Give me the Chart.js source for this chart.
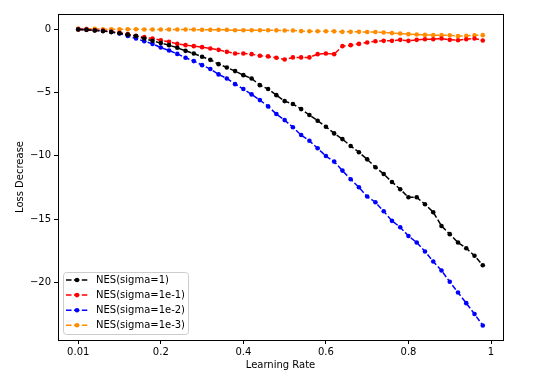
<!DOCTYPE html>
<html>
<head>
<meta charset="utf-8">
<script src="https://cdn.jsdelivr.net/npm/chart.js@4"></script>
<style>
html,body{margin:0;padding:0;background:#fff;}
#wrap{width:543px;height:380px;position:relative;}
</style>
</head>
<body>
<div id="wrap"><canvas id="c" width="543" height="380"></canvas></div>
<script>
// x positions: 50 learning-rate steps
const xValues = [0.00,0.02,0.04,0.06,0.08,0.10,0.12,0.14,0.16,0.18,0.20,0.22,0.24,0.26,0.28,0.30,0.32,0.34,0.36,0.38,0.40,0.42,0.44,0.46,0.48,0.50,0.52,0.54,0.56,0.58,0.60,0.62,0.64,0.66,0.68,0.70,0.72,0.74,0.76,0.78,0.80,0.82,0.84,0.86,0.88,0.90,0.92,0.94,0.96,0.98];
const seriesNames = ['NES(sigma=1)','NES(sigma=1e-1)','NES(sigma=1e-2)','NES(sigma=1e-3)'];
const sigma1 = [-0.02,-0.05,-0.10,-0.15,-0.23,-0.32,-0.43,-0.55,-0.74,-0.92,-1.10,-1.26,-1.47,-1.71,-1.92,-2.18,-2.42,-2.76,-3.02,-3.31,-3.63,-3.89,-4.42,-4.73,-5.21,-5.68,-5.91,-6.31,-6.78,-7.23,-7.70,-8.23,-8.68,-9.23,-9.72,-10.28,-10.91,-11.44,-12.07,-12.64,-13.28,-13.28,-13.83,-14.46,-15.54,-16.19,-16.85,-17.30,-17.90,-18.64];
const sigma1e1 = [-0.02,-0.04,-0.08,-0.13,-0.20,-0.28,-0.39,-0.53,-0.63,-0.74,-0.87,-1.00,-1.16,-1.26,-1.34,-1.42,-1.52,-1.63,-1.79,-1.92,-1.92,-1.97,-2.10,-2.15,-2.26,-2.39,-2.23,-2.23,-2.23,-1.97,-1.92,-1.97,-1.34,-1.26,-1.16,-1.05,-0.95,-0.92,-0.92,-0.84,-0.92,-0.84,-0.79,-0.79,-0.74,-0.84,-0.87,-0.79,-0.74,-0.89];
const sigma1e2 = [0.00,-0.03,-0.08,-0.13,-0.21,-0.34,-0.53,-0.74,-0.95,-1.16,-1.45,-1.68,-1.95,-2.26,-2.52,-2.84,-3.15,-3.57,-3.89,-4.34,-4.73,-5.15,-5.60,-6.10,-6.70,-7.18,-7.75,-8.36,-8.81,-9.41,-10.02,-10.46,-11.17,-11.85,-12.49,-13.22,-13.67,-14.38,-15.14,-15.64,-16.33,-16.85,-17.56,-18.35,-19.06,-19.95,-20.80,-21.64,-22.50,-23.40];
const sigma1e3 = [0.05,0.03,0.03,0.00,0.00,0.00,0.00,0.00,-0.03,-0.03,-0.03,-0.03,-0.03,-0.03,-0.03,-0.05,-0.05,-0.05,-0.05,-0.08,-0.08,-0.08,-0.08,-0.08,-0.09,-0.10,-0.10,-0.15,-0.16,-0.16,-0.16,-0.17,-0.21,-0.21,-0.21,-0.22,-0.22,-0.26,-0.31,-0.34,-0.39,-0.42,-0.45,-0.47,-0.47,-0.48,-0.55,-0.53,-0.48,-0.47];
const xTickValues = [0,0.2,0.4,0.6,0.8,1.0];
const xTickLabels = ['0.01','0.2','0.4','0.6','0.8','1'];
const yTickValues = [0,-5,-10,-15,-20];
const yTickLabels = ['0','\u22125','\u221210','\u221215','\u221220'];
const colors = ['#000000','#ff0000','#0000ff','#ff8c00'];

const allSeries = [sigma1, sigma1e1, sigma1e2, sigma1e3];
const FONT = 'DejaVu Sans';
const DOT = 2.3;

const datasets = allSeries.map((s, k) => ({
  label: seriesNames[k],
  data: s.map((v, i) => ({x: xValues[i], y: v})),
  borderColor: colors[k],
  backgroundColor: colors[k],
  borderWidth: 1.5,
  borderDash: [5.5, 2.4],
  pointRadius: DOT,
  pointBorderWidth: 0,
  pointBackgroundColor: colors[k],
  pointHoverRadius: DOT,
  tension: 0,
  fill: false
}));

const framePlugin = {
  id: 'frame',
  afterDraw(chart) {
    const {ctx, chartArea: a} = chart;
    ctx.save();
    ctx.strokeStyle = '#000';
    ctx.lineWidth = 1;
    ctx.strokeRect(Math.round(a.left) + 0.5, Math.round(a.top) + 0.5, Math.round(a.right - a.left), Math.round(a.bottom - a.top));
    // legend
    const lx = 63.5, ly = 272.5, lw = 125, lh = 62, r = 3;
    ctx.globalAlpha = 0.8;
    ctx.fillStyle = '#fff';
    ctx.beginPath();
    ctx.moveTo(lx + r, ly);
    ctx.arcTo(lx + lw, ly, lx + lw, ly + lh, r);
    ctx.arcTo(lx + lw, ly + lh, lx, ly + lh, r);
    ctx.arcTo(lx, ly + lh, lx, ly, r);
    ctx.arcTo(lx, ly, lx + lw, ly, r);
    ctx.closePath();
    ctx.fill();
    ctx.globalAlpha = 1;
    ctx.strokeStyle = '#cccccc';
    ctx.lineWidth = 1;
    ctx.stroke();
    ctx.font = '10px "' + FONT + '"';
    ctx.textBaseline = 'middle';
    ctx.textAlign = 'left';
    for (let k = 0; k < seriesNames.length; k++) {
      const y = 280 + k * 15.1;
      ctx.strokeStyle = colors[k];
      ctx.lineWidth = 1.5;
      ctx.setLineDash([5.5, 2.4]);
      ctx.beginPath();
      ctx.moveTo(66, y);
      ctx.lineTo(88, y);
      ctx.stroke();
      ctx.setLineDash([]);
      ctx.fillStyle = colors[k];
      ctx.beginPath();
      ctx.arc(77, y, DOT, 0, Math.PI * 2);
      ctx.fill();
      ctx.fillStyle = '#000';
      ctx.fillText(seriesNames[k], 96, y + 0.5);
    }
    ctx.restore();
  }
};

new Chart(document.getElementById('c'), {
  type: 'line',
  data: {datasets},
  options: {
    responsive: false,
    animation: false,
    events: [],
    layout: {padding: {top: 14, right: 40, left: 14, bottom: 9}},
    plugins: {legend: {display: false}, tooltip: {enabled: false}},
    scales: {
      x: {
        type: 'linear',
        min: -0.049,
        max: 1.029,
        afterFit(s) { s.height = 31; },
        afterBuildTicks(s) { s.ticks = xTickValues.map(v => ({value: v})); },
        grid: {display: true, drawOnChartArea: false, drawTicks: true, tickLength: 4, color: '#000', lineWidth: 1},
        border: {display: true, color: '#000', width: 1},
        ticks: {
          color: '#000',
          padding: 2,
          maxRotation: 0,
          autoSkip: false,
          font: {family: FONT, size: 10},
          callback(v) { const i = xTickValues.findIndex(t => Math.abs(t - v) < 1e-9); return i >= 0 ? xTickLabels[i] : ''; }
        },
        title: {display: true, text: 'Learning Rate', color: '#000', font: {family: FONT, size: 10}, padding: {top: 1, bottom: 0}}
      },
      y: {
        type: 'linear',
        min: -24.55,
        max: 1.2,
        afterFit(s) { s.width = 44; },
        afterBuildTicks(s) { s.ticks = yTickValues.map(v => ({value: v})); },
        grid: {display: true, drawOnChartArea: false, drawTicks: true, tickLength: 4, color: '#000', lineWidth: 1},
        border: {display: true, color: '#000', width: 1},
        ticks: {
          color: '#000',
          padding: 3,
          autoSkip: false,
          font: {family: FONT, size: 10},
          callback(v) { const i = yTickValues.findIndex(t => Math.abs(t - v) < 1e-9); return i >= 0 ? yTickLabels[i] : ''; }
        },
        title: {display: true, text: 'Loss Decrease', color: '#000', font: {family: FONT, size: 10}, padding: {top: 0, bottom: 4}}
      }
    }
  },
  plugins: [framePlugin]
});
</script>
</body>
</html>
